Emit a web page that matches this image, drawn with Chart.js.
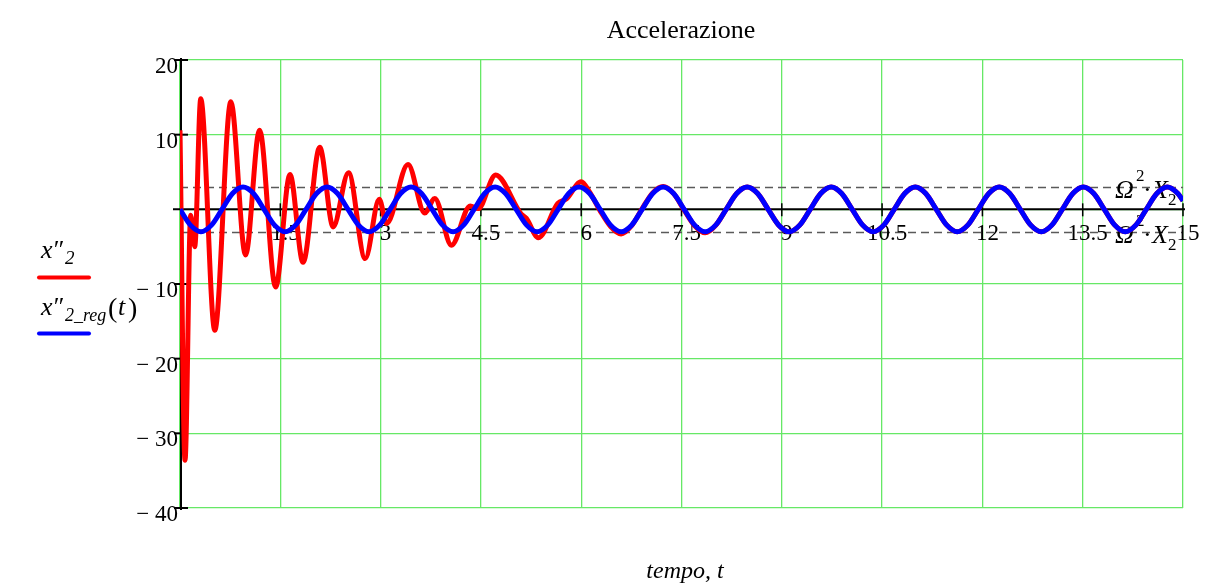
<!DOCTYPE html>
<html>
<head>
<meta charset="utf-8">
<script src="https://cdn.jsdelivr.net/npm/chart.js@4/dist/chart.umd.min.js"></script>
<style>
  html, body { margin: 0; padding: 0; background: #fff; }
  #wrap { width: 1213px; height: 588px; position: relative; }
</style>
</head>
<body>
<div id="wrap"><canvas id="c"></canvas></div>
<script>
// Regime response x''2_reg(t), sampled every eighth of a period
const blueT = [
  0, 0.157, 0.314, 0.471, 0.628, 0.785, 0.942, 1.100,
  1.257, 1.414, 1.571, 1.728, 1.885, 2.042, 2.199, 2.356,
  2.513, 2.670, 2.827, 2.985, 3.142, 3.299, 3.456, 3.613,
  3.770, 3.927, 4.084, 4.241, 4.398, 4.555, 4.712, 4.869,
  5.027, 5.184, 5.341, 5.498, 5.655, 5.812, 5.969, 6.126,
  6.283, 6.440, 6.597, 6.754, 6.912, 7.069, 7.226, 7.383,
  7.540, 7.697, 7.854, 8.011, 8.168, 8.325, 8.482, 8.639,
  8.796, 8.954, 9.111, 9.268, 9.425, 9.582, 9.739, 9.896,
  10.053, 10.210, 10.367, 10.524, 10.681, 10.838, 10.996, 11.153,
  11.310, 11.467, 11.624, 11.781, 11.938, 12.095, 12.252, 12.409,
  12.566, 12.723, 12.881, 13.038, 13.195, 13.352, 13.509, 13.666,
  13.823, 13.980, 14.137, 14.294, 14.451, 14.608, 14.765, 14.923,
  15
];
const blueV = [
  0, -2.12, -3, -2.12, 0, 2.12, 3, 2.12,
  0, -2.12, -3, -2.12, 0, 2.12, 3, 2.12,
  0, -2.12, -3, -2.12, 0, 2.12, 3, 2.12,
  0, -2.12, -3, -2.12, 0, 2.12, 3, 2.12,
  0, -2.12, -3, -2.12, 0, 2.12, 3, 2.12,
  0, -2.12, -3, -2.12, 0, 2.12, 3, 2.12,
  0, -2.12, -3, -2.12, 0, 2.12, 3, 2.12,
  0, -2.12, -3, -2.12, 0, 2.12, 3, 2.12,
  0, -2.12, -3, -2.12, 0, 2.12, 3, 2.12,
  0, -2.12, -3, -2.12, 0, 2.12, 3, 2.12,
  0, -2.12, -3, -2.12, 0, 2.12, 3, 2.12,
  0, -2.12, -3, -2.12, 0, 2.12, 3, 2.12,
  1.16
];

// Full response x''2: transient part (peaks, valleys and shoulders) up to t = 8.17
const redT = [
  0, 0.075, 0.16, 0.22, 0.31, 0.52, 0.76, 0.98, 1.19, 1.43,
  1.645, 1.84, 2.09, 2.29, 2.52, 2.77, 2.98, 3.09, 3.41, 3.66,
  3.81, 4.06, 4.34, 4.46, 4.72, 5.1, 5.18, 5.36, 5.65, 5.78,
  6.0, 6.126, 6.283, 6.44, 6.597, 6.754, 6.912, 7.069, 7.226, 7.383,
  7.54, 7.697, 7.854, 8.011, 8.168
];
const redV = [
  10.6, -33.6, -0.8, -5.0, 14.8, -16.2, 14.4, -6.1, 10.6, -10.4,
  4.65, -7.1, 8.3, -2.35, 4.9, -6.6, 1.35, -1.9, 6.0, -0.5,
  1.45, -4.8, 0.45, 0.1, 4.6, -0.6, -1.2, -3.8, 0.8, 1.4,
  3.7, 2.3, -0.2, -2.3, -3.3, -2.2, 0.1, 2.2, 3.05, 2.1,
  -0.1, -2.2, -3.15, -2.15, 0
];

// Amplitude markers ±Ω²·X2
const bandLevels = [3, -3];

// Axis ticks and their labels
const xTickValues = [1.5, 3, 4.5, 6, 7.5, 9, 10.5, 12, 13.5, 15];
const xTickLabels = ['1.5', '3', '4.5', '6', '7.5', '9', '10.5', '12', '13.5', '15'];
const yTickValues = [20, 10, -10, -20, -30, -40];
const yTickLabels = ['20', '10', '\u2212 10', '\u2212 20', '\u2212 30', '\u2212 40'];

const titleText = 'Accelerazione';
const xAxisText = 'tempo, t';

// After the transient has died out the full response coincides with the regime one
const redPoints = redT.map((t, i) => ({ x: t, y: redV[i] }));
blueT.forEach((t, i) => { if (t > redT[redT.length - 1] + 1e-6) redPoints.push({ x: t, y: blueV[i] }); });
const bluePoints = blueT.map((t, i) => ({ x: t, y: blueV[i] }));

const serif = '"Liberation Serif", "Times New Roman", serif';
const gridGreen = '#66e866';

function seg(ctx, x1, y1, x2, y2) {
  ctx.beginPath(); ctx.moveTo(x1, y1); ctx.lineTo(x2, y2); ctx.stroke();
}

// Ω²·X2 label, left edge x, baseline b
function omegaLabel(ctx, x, b) {
  ctx.textAlign = 'left';
  ctx.font = `italic 26px ${serif}`;
  ctx.fillText('\u03A9', x, b);
  ctx.font = `17px ${serif}`;
  ctx.fillText('2', x + 21, b - 17);
  ctx.font = `26px ${serif}`;
  ctx.fillText('\u00B7', x + 28, b);
  ctx.font = `italic 26px ${serif}`;
  ctx.fillText('X', x + 37, b);
  ctx.font = `17px ${serif}`;
  ctx.fillText('2', x + 53, b + 7);
}

const decor = {
  id: 'decor',
  beforeDatasetsDraw(chart) {
    const { ctx, chartArea: a, scales: { x, y } } = chart;
    const y0 = y.getPixelForValue(0);
    ctx.save();
    // dashed amplitude guides
    ctx.strokeStyle = '#5a5a5a';
    ctx.lineWidth = 1.3;
    ctx.setLineDash([8, 5]);
    bandLevels.forEach(v => { const py = Math.round(y.getPixelForValue(v)) + 0.5; seg(ctx, a.left, py, a.right, py); });
    ctx.setLineDash([]);

    // axes
    ctx.strokeStyle = '#000';
    ctx.lineWidth = 2;
    seg(ctx, a.left - 7, y0, a.right + 2, y0);
    seg(ctx, a.left + 1, a.top - 2, a.left + 1, a.bottom + 2);
    yTickValues.forEach(v => { const py = y.getPixelForValue(v); seg(ctx, a.left - 6, py, a.left + 8, py); });
    ctx.lineWidth = 1.5;
    xTickValues.forEach(v => { const px = x.getPixelForValue(v); seg(ctx, px, y0 - 6, px, y0 + 7); });

    // tick labels
    ctx.fillStyle = '#000';
    ctx.font = `23px ${serif}`;
    ctx.textBaseline = 'alphabetic';
    ctx.textAlign = 'right';
    yTickValues.forEach((v, i) => ctx.fillText(yTickLabels[i], a.left - 2, y.getPixelForValue(v) + 13));
    ctx.textAlign = 'center';
    xTickValues.forEach((v, i) => ctx.fillText(xTickLabels[i], x.getPixelForValue(v) + 5, y0 + 31));

    // amplitude labels
    omegaLabel(ctx, 1115, Math.round(y.getPixelForValue(bandLevels[0])) + 11);
    omegaLabel(ctx, 1115, Math.round(y.getPixelForValue(bandLevels[1])) + 11);
    ctx.restore();
  },
  afterDraw(chart) {
    const { ctx } = chart;
    ctx.save();
    ctx.fillStyle = '#000';
    ctx.textBaseline = 'alphabetic';

    // title
    ctx.textAlign = 'center';
    ctx.font = `26px ${serif}`;
    ctx.fillText(titleText, 681, 38);

    // x axis caption
    ctx.font = `italic 24px ${serif}`;
    ctx.fillText(xAxisText, 685, 578);

    // legend
    ctx.textAlign = 'left';
    ctx.font = `italic 26px ${serif}`;
    ctx.fillText('x', 41, 258);
    ctx.fillText('\u2033', 52, 258);
    ctx.font = `italic 19px ${serif}`;
    ctx.fillText('2', 65, 264);
    ctx.lineCap = 'round';
    ctx.lineWidth = 4;
    ctx.strokeStyle = '#ff0000';
    seg(ctx, 39, 277.5, 89, 277.5);

    ctx.font = `italic 26px ${serif}`;
    ctx.fillText('x', 41, 315);
    ctx.fillText('\u2033', 52, 315);
    ctx.font = `italic 18px ${serif}`;
    ctx.fillText('2_reg', 65, 321);
    ctx.font = `28px ${serif}`;
    ctx.fillText('(', 108, 317);
    ctx.font = `italic 26px ${serif}`;
    ctx.fillText('t', 118, 315);
    ctx.font = `28px ${serif}`;
    ctx.fillText(')', 128, 317);
    ctx.strokeStyle = '#0000ff';
    seg(ctx, 39, 333.5, 89, 333.5);
    ctx.restore();
  }
};

new Chart(document.getElementById('c'), {
  type: 'line',
  data: {
    datasets: [
      {
        label: "x''2_reg(t)",
        data: bluePoints,
        borderColor: '#0000ff',
        borderWidth: 5,
        pointRadius: 0,
        cubicInterpolationMode: 'monotone',
        order: 0
      },
      {
        label: "x''2",
        data: redPoints,
        borderColor: '#ff0000',
        borderWidth: 5,
        pointRadius: 0,
        cubicInterpolationMode: 'monotone',
        order: 1
      }
    ]
  },
  options: {
    responsive: true,
    maintainAspectRatio: false,
    devicePixelRatio: 1,
    animation: false,
    layout: { padding: { left: 180, right: 30, top: 60, bottom: 80 } },
    plugins: { legend: { display: false }, title: { display: false }, tooltip: { enabled: false } },
    scales: {
      x: {
        type: 'linear', min: 0, max: 15,
        ticks: { display: false, stepSize: 1.5 },
        grid: { color: gridGreen, lineWidth: 1.3, drawTicks: false },
        border: { display: false }
      },
      y: {
        type: 'linear', min: -40, max: 20,
        ticks: { display: false, stepSize: 10 },
        grid: { color: gridGreen, lineWidth: 1.3, drawTicks: false },
        border: { display: false }
      }
    }
  },
  plugins: [decor]
});
</script>
</body>
</html>
